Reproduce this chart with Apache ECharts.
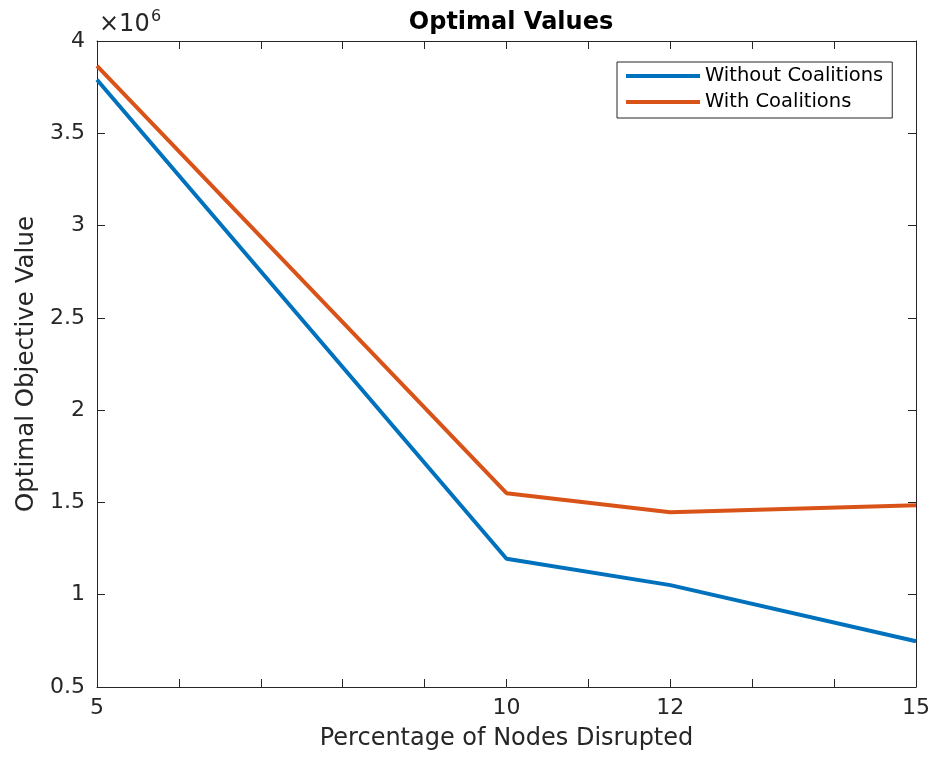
<!DOCTYPE html>
<html>
<head>
<meta charset="utf-8">
<script src="https://cdn.jsdelivr.net/npm/echarts@6/dist/echarts.min.js"></script>
<style>
  html, body { margin: 0; padding: 0; background: #fff; }
  #chart { width: 936px; height: 762px; }
</style>
</head>
<body>
<div id="chart"></div>
<script>
// Optimal objective value vs. share of disrupted nodes, with and without coalitions.
const disrupted = [5, 10, 12, 15];                       // % of nodes disrupted
const withoutCoalitions = [3790000, 1195000, 1052000, 748000];
const withCoalitions = [3865000, 1550000, 1447000, 1485000];
const labelledTicks = [5, 10, 12, 15];

const INK = '#262626';
const FONT = 'DejaVu Sans';

const chart = echarts.init(document.getElementById('chart'));

const boxAxis = {
  axisLine: { show: true, lineStyle: { color: INK, width: 1 } },
  axisTick: { show: true, inside: true, length: 8, lineStyle: { color: INK } },
  splitLine: { show: false },
};

chart.setOption({
  animation: false,
  title: {
    text: 'Optimal Values', left: 506, top: 6, textAlign: 'center',
    textStyle: { fontFamily: FONT, fontSize: 24, fontWeight: 'bold', color: '#000' },
  },
  legend: {
    orient: 'vertical', left: 617, top: 62,
    padding: [4, 9, 6, 9], itemGap: 6,
    itemWidth: 74, itemHeight: 4, icon: 'rect',
    backgroundColor: '#fff', borderColor: INK, borderWidth: 1,
    textStyle: { fontFamily: FONT, fontSize: 19.5, color: '#000', lineHeight: 20 },
  },
  graphic: [
    { type: 'text', left: 99, top: 13, style: { text: '×10', font: '24px "DejaVu Sans"', fill: INK } },
    { type: 'text', left: 151, top: 9, style: { text: '6', font: '16px "DejaVu Sans"', fill: INK } },
  ],
  grid: { left: 97, right: 20, top: 41, bottom: 75 },
  xAxis: [
    Object.assign({
      type: 'value', min: 5, max: 15, interval: 1,
      name: 'Percentage of Nodes Disrupted', nameLocation: 'middle', nameGap: 40,
      nameTextStyle: { fontFamily: FONT, fontSize: 24, color: INK },
      axisLabel: {
        margin: 10, fontFamily: FONT, fontSize: 22, color: INK,
        formatter: v => labelledTicks.includes(v) ? String(v) : '',
      },
    }, boxAxis),
    Object.assign({
      type: 'value', min: 5, max: 15, interval: 1, position: 'top',
      axisLabel: { show: false },
    }, boxAxis),
  ],
  yAxis: [
    Object.assign({
      type: 'value', min: 500000, max: 4000000, interval: 500000,
      name: 'Optimal Objective Value', nameLocation: 'middle', nameGap: 58,
      nameTextStyle: { fontFamily: FONT, fontSize: 24.5, color: INK },
      axisLabel: {
        margin: 12, fontFamily: FONT, fontSize: 22, color: INK,
        formatter: v => String(v / 1e6),
      },
    }, boxAxis),
    Object.assign({
      type: 'value', min: 500000, max: 4000000, interval: 500000, position: 'right',
      axisLabel: { show: false },
    }, boxAxis),
  ],
  series: [
    {
      name: 'Without Coalitions', type: 'line', showSymbol: false,
      data: disrupted.map((x, i) => [x, withoutCoalitions[i]]),
      lineStyle: { color: '#0072BD', width: 4 }, itemStyle: { color: '#0072BD' },
    },
    {
      name: 'With Coalitions', type: 'line', showSymbol: false,
      data: disrupted.map((x, i) => [x, withCoalitions[i]]),
      lineStyle: { color: '#D95319', width: 4 }, itemStyle: { color: '#D95319' },
    },
  ],
});
</script>
</body>
</html>
